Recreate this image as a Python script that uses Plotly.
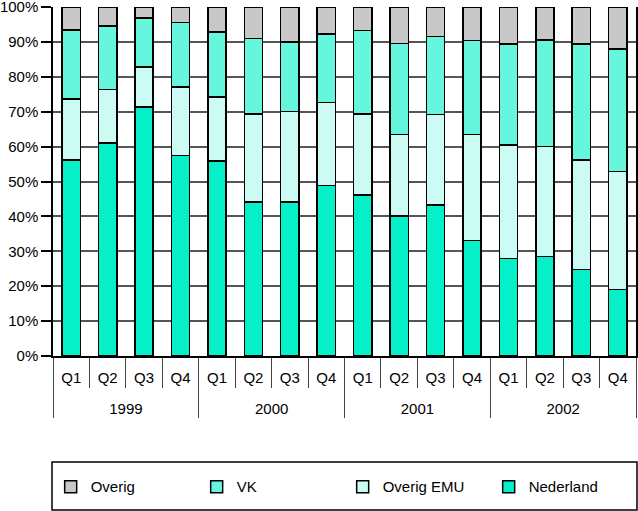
import plotly.graph_objects as go

years = ["1999"] * 4 + ["2000"] * 4 + ["2001"] * 4 + ["2002"] * 4
quarters = ["Q1", "Q2", "Q3", "Q4"] * 4

nederland = [56.1, 61.1, 71.3, 57.5, 55.9, 44.1, 44.1, 48.9, 46.1, 40.1, 43.3, 33.1, 27.9, 28.5, 24.8, 19.0]
overig_emu = [17.5, 15.2, 11.5, 19.6, 18.3, 25.3, 25.9, 23.7, 23.3, 23.3, 25.9, 30.4, 32.6, 31.6, 31.3, 33.8]
vk = [19.8, 18.3, 14.0, 18.4, 18.7, 21.6, 20.0, 19.6, 23.8, 26.2, 22.3, 26.9, 28.9, 30.4, 33.3, 35.2]
overig = [6.6, 5.4, 3.2, 4.5, 7.1, 9.0, 10.0, 7.8, 6.8, 10.4, 8.5, 9.6, 10.6, 9.5, 10.6, 12.0]

series = [
    ("Nederland", nederland, "#05F0C8"),
    ("Overig EMU", overig_emu, "#CCFBF3"),
    ("VK", vk, "#66F6DD"),
    ("Overig", overig, "#C8C8C8"),
]

FONT = "Liberation Sans, Arial, sans-serif"

year_labels = ["<br>" + y for y in years]

fig = go.Figure()
for name, vals, col in series:
    fig.add_trace(go.Bar(
        x=[year_labels, quarters], y=vals, name=name,
        marker=dict(color=col, line=dict(color="black", width=1.5)),
    ))

fig.update_layout(
    width=638, height=511,
    margin=dict(l=53, r=2, t=7, b=155, autoexpand=False),
    barmode="stack", bargap=0.5,
    plot_bgcolor="white", paper_bgcolor="white",
    font=dict(family=FONT, size=15, color="black"),
    legend=dict(
        orientation="h", traceorder="reversed",
        x=-0.004, xanchor="left", y=-0.375, yanchor="middle",
        entrywidth=101, entrywidthmode="pixels",
        font=dict(size=15), bgcolor="rgba(0,0,0,0)",
    ),
    shapes=[dict(type="rect", xref="paper", yref="paper",
                 x0=-0.0017, x1=1.0017, y0=-0.441, y1=-0.304,
                 line=dict(color="black", width=1.5))],
)

fig.update_xaxes(
    type="multicategory", automargin=False,
    showline=True, linecolor="black", linewidth=1.5,
    ticks="outside", tickson="boundaries", ticklen=30, tickcolor="#444", tickwidth=1,
    dividercolor="#444", dividerwidth=1,
    showgrid=False, ticklabelstandoff=7,
    tickfont=dict(size=15),
)
fig.update_yaxes(
    automargin=False, ticklabeloverflow="allow",
    range=[0, 100], tickvals=[0, 10, 20, 30, 40, 50, 60, 70, 80, 90, 100],
    ticktext=["0%", "10%", "20%", "30%", "40%", "50%", "60%", "70%", "80%", "90%", "100%"],
    showgrid=True, gridcolor="#555", gridwidth=1.5,
    showline=True, linecolor="black", linewidth=1.5, mirror=True,
    ticks="outside", ticklen=10, tickcolor="black", tickwidth=1.5,
    zeroline=False,
    tickfont=dict(size=15),
)

fig.write_html("out.html", config={"displayModeBar": False},
               post_script="document.body.style.margin='0';")
